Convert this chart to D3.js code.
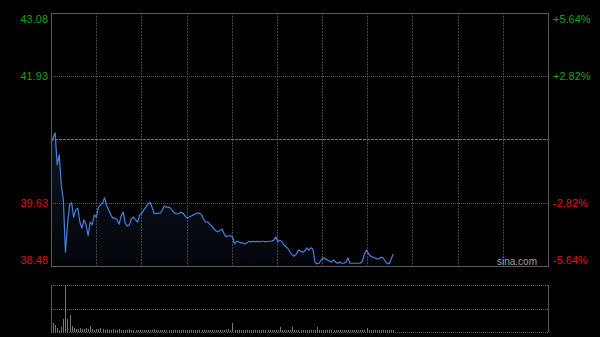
<!DOCTYPE html>
<html>
<head>
<meta charset="utf-8">
<script src="https://cdn.jsdelivr.net/npm/d3@7"></script>
<style>
  html, body { margin: 0; padding: 0; background: #000; }
  svg { display: block; }
</style>
</head>
<body>
<script>
// chart size
const width = 600;
const height = 337;

// price levels on the left axis, change labels on the right axis
const priceTicks = [43.08, 41.93, 40.78, 39.63, 38.48];
const pctLabels = ["+5.64%", "+2.82%", "", "-2.82%", "-5.64%"];
const prevClose = 40.78;
const totalMinutes = 241;

// minute-by-minute price
const prices = [
  40.72, 40.81, 40.90, 40.32, 40.50, 39.95, 39.68, 38.73, 39.23, 39.59,
  39.63, 39.37, 39.50, 39.53, 39.28, 39.17, 39.32, 39.23, 39.03, 39.28,
  39.23, 39.41, 39.37, 39.55, 39.59, 39.63, 39.72, 39.57, 39.50, 39.41,
  39.35, 39.35, 39.32, 39.24, 39.39, 39.46, 39.26, 39.21, 39.23, 39.34,
  39.37, 39.32, 39.28, 39.41, 39.44, 39.50, 39.55, 39.61, 39.64, 39.55,
  39.44, 39.43, 39.44, 39.44, 39.50, 39.57, 39.55, 39.55, 39.53, 39.48,
  39.44, 39.43, 39.43, 39.46, 39.44, 39.39, 39.35, 39.37, 39.39, 39.41,
  39.43, 39.44, 39.44, 39.41, 39.33, 39.28, 39.28, 39.24, 39.21, 39.15,
  39.12, 39.10, 39.13, 39.15, 39.06, 39.01, 39.03, 39.03, 39.01, 38.88,
  38.93, 38.92, 38.90, 38.90, 38.88, 38.90, 38.93, 38.92, 38.93, 38.92,
  38.93, 38.92, 38.93, 38.93, 38.92, 38.93, 38.93, 38.93, 38.95, 39.01,
  38.92, 38.95, 38.92, 38.86, 38.83, 38.79, 38.73, 38.68, 38.66, 38.70,
  38.77, 38.75, 38.73, 38.75, 38.81, 38.77, 38.81, 38.79, 38.55, 38.52,
  38.53, 38.59, 38.63, 38.61, 38.59, 38.57, 38.55, 38.59, 38.55, 38.53,
  38.55, 38.53, 38.53, 38.55, 38.63, 38.53, 38.53, 38.53, 38.53, 38.53,
  38.53, 38.57, 38.70, 38.77, 38.70, 38.66, 38.64, 38.63, 38.61, 38.61,
  38.64, 38.63, 38.57, 38.53, 38.52, 38.61, 38.70
];

// minute volume (hundreds of shares)
const volumes = [
  190, 90, 70, 40, 15, 50, 130, 470, 130, 170,
  60, 40, 30, 30, 40, 30, 30, 40, 30, 60,
  30, 20, 30, 30, 40, 30, 20, 30, 20, 20,
  30, 20, 20, 30, 20, 20, 20, 20, 30, 20,
  20, 20, 20, 20, 20, 20, 20, 20, 20, 20,
  30, 20, 20, 20, 20, 20, 20, 20, 20, 20,
  20, 20, 20, 20, 20, 20, 20, 20, 20, 20,
  20, 20, 20, 20, 20, 20, 20, 20, 20, 20,
  20, 20, 20, 20, 20, 20, 30, 20, 90, 20,
  20, 20, 20, 20, 20, 20, 20, 20, 20, 20,
  20, 20, 20, 20, 20, 20, 20, 20, 20, 20,
  20, 50, 20, 20, 20, 20, 20, 50, 20, 20,
  20, 20, 20, 20, 20, 20, 20, 20, 20, 50,
  20, 20, 20, 20, 20, 20, 20, 20, 20, 20,
  20, 20, 20, 20, 20, 20, 20, 20, 20, 20,
  20, 20, 20, 40, 20, 20, 20, 20, 20, 20,
  20, 20, 20, 20, 20, 20, 20
];

// panel geometry
const left = 51, right = 548;
const priceTop = 13, priceBottom = 266;
const volTop = 285, volBottom = 332;

const svg = d3.select("body").append("svg")
  .attr("width", width)
  .attr("height", height)
  .style("background", "#000")
  .style("font-family", "Arial, 'Liberation Sans', sans-serif");

const x = d3.scaleLinear().domain([0, totalMinutes]).range([left, right]);
const y = d3.scaleLinear().domain([38.48, 43.08]).range([priceBottom, priceTop]);
const yVol = d3.scaleLinear().domain([0, d3.max(volumes)]).range([volBottom, volTop]);
const xGrid = d3.scaleLinear().domain([0, 11]).range([left, right]);

// vertical dotted grid in the price panel
svg.append("g")
  .selectAll("line")
  .data(d3.range(1, 11))
  .enter()
  .append("line")
  .attr("x1", d => Math.round(xGrid(d)) + 0.5)
  .attr("x2", d => Math.round(xGrid(d)) + 0.5)
  .attr("y1", priceTop)
  .attr("y2", priceBottom)
  .attr("stroke", "#444")
  .attr("stroke-dasharray", "2,1");

// horizontal dotted grid
svg.append("g")
  .selectAll("line")
  .data(priceTicks.slice(1, -1))
  .enter()
  .append("line")
  .attr("x1", left)
  .attr("x2", right)
  .attr("y1", d => Math.round(y(d)) + 0.5)
  .attr("y2", d => Math.round(y(d)) + 0.5)
  .attr("stroke", d => d === prevClose ? "#777" : "#555")
  .attr("stroke-dasharray", d => d === prevClose ? "3,1" : "1,1");

// area under the price line
const gradient = svg.append("defs").append("linearGradient")
  .attr("id", "fillGrad")
  .attr("x1", 0).attr("y1", 0).attr("x2", 0).attr("y2", 1);
gradient.append("stop").attr("offset", "0%").attr("stop-color", "#4a7fd8").attr("stop-opacity", 0.18);
gradient.append("stop").attr("offset", "100%").attr("stop-color", "#4a7fd8").attr("stop-opacity", 0.04);

const area = d3.area()
  .x((d, i) => x(i))
  .y0(priceBottom)
  .y1(d => y(d));

svg.append("path")
  .datum(prices)
  .attr("d", area)
  .attr("fill", "url(#fillGrad)");

const line = d3.line()
  .x((d, i) => x(i))
  .y(d => y(d));

svg.append("path")
  .datum(prices)
  .attr("d", line)
  .attr("fill", "none")
  .attr("stroke", "#4a80dc")
  .attr("stroke-width", 1.2)
  .attr("stroke-linejoin", "round");

// price panel frame
svg.append("rect")
  .attr("x", left + 0.5)
  .attr("y", priceTop + 0.5)
  .attr("width", right - left)
  .attr("height", priceBottom - priceTop)
  .attr("fill", "none")
  .attr("stroke", "#5a5a5a");

// left price labels
svg.append("g")
  .selectAll("text")
  .data(priceTicks)
  .enter()
  .filter(d => d !== prevClose)
  .append("text")
  .attr("x", 48)
  .attr("y", d => {
    const yy = y(d);
    if (d === 43.08) return yy + 10;
    if (d === 38.48) return yy - 2;
    return yy + 4;
  })
  .attr("text-anchor", "end")
  .style("font-size", "11px")
  .style("fill", d => d > prevClose ? "#19a019" : "#e01010")
  .text(d => d.toFixed(2));

// right percentage labels
svg.append("g")
  .selectAll("text")
  .data(priceTicks.map((d, i) => ({ p: d, label: pctLabels[i] })))
  .enter()
  .filter(d => d.label !== "")
  .append("text")
  .attr("x", 553)
  .attr("y", d => {
    const yy = y(d.p);
    if (d.p === 43.08) return yy + 10;
    if (d.p === 38.48) return yy - 2;
    return yy + 4;
  })
  .attr("text-anchor", "start")
  .style("font-size", "11px")
  .style("fill", d => d.p > prevClose ? "#19a019" : "#e01010")
  .text(d => d.label);

// watermark
svg.append("text")
  .attr("x", 537)
  .attr("y", 265)
  .attr("text-anchor", "end")
  .style("font-size", "10px")
  .style("fill", "#a0a0a0")
  .text("sina.com");

// volume panel grid
svg.append("g")
  .selectAll("line")
  .data([volTop, (volTop + volBottom) / 2, volBottom])
  .enter()
  .append("line")
  .attr("x1", left)
  .attr("x2", right)
  .attr("y1", d => Math.round(d) + 0.5)
  .attr("y2", d => Math.round(d) + 0.5)
  .attr("stroke", "#666")
  .attr("stroke-dasharray", "1,1");

// volume bars
svg.append("g")
  .selectAll("line")
  .data(volumes)
  .enter()
  .append("line")
  .attr("x1", (d, i) => Math.round(x(i)) + 0.5)
  .attr("x2", (d, i) => Math.round(x(i)) + 0.5)
  .attr("y1", volBottom)
  .attr("y2", d => yVol(d))
  .attr("stroke", "#777")
  .attr("stroke-width", 1);

// volume panel side borders
svg.append("g")
  .selectAll("line")
  .data([left, right])
  .enter()
  .append("line")
  .attr("x1", d => d + 0.5)
  .attr("x2", d => d + 0.5)
  .attr("y1", volTop)
  .attr("y2", volBottom)
  .attr("stroke", "#5a5a5a");
</script>
</body>
</html>
